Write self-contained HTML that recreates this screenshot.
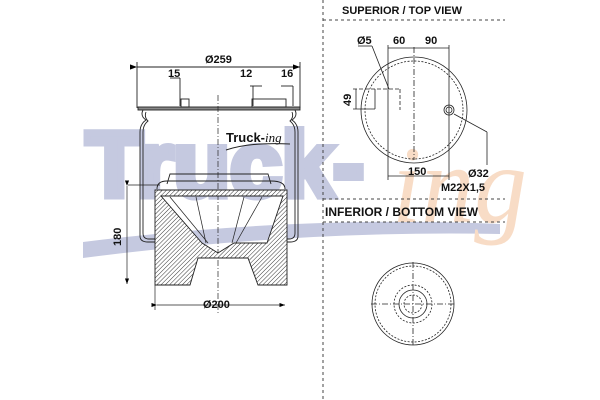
<!DOCTYPE html>
<html><head><meta charset="utf-8"><style>
html,body{margin:0;padding:0;background:#fff;}
svg{display:block;font-family:"Liberation Sans",sans-serif;}
</style></head><body>
<svg width="600" height="400" viewBox="0 0 600 400" xmlns="http://www.w3.org/2000/svg">
<defs>
<pattern id="h" width="3" height="3" patternUnits="userSpaceOnUse" patternTransform="rotate(45)">
<rect width="3" height="3" fill="#fff"/><line x1="0" y1="0" x2="0" y2="3" stroke="#333" stroke-width="1"/>
</pattern>
<marker id="a" markerWidth="8" markerHeight="6" refX="8" refY="3" orient="auto"><path d="M0,0 L8,3 L0,6z" fill="#000"/></marker>
</defs>
<!-- watermark -->
<g fill="#c5c9e0">
<text x="86" y="196" font-size="92" font-weight="bold" textLength="278" lengthAdjust="spacingAndGlyphs" stroke="#c5c9e0" stroke-width="7" stroke-linejoin="miter" style="font-family:'Liberation Sans',sans-serif">Truck-</text>
<path d="M83,242 Q300,215 500,224 L500,234 Q300,230 83,258 Z"/>
</g>
<text x="392" y="222" font-size="110" font-style="italic" fill="#f8dcc6" style="font-family:'Liberation Serif',serif" textLength="135" lengthAdjust="spacingAndGlyphs">ing</text>
<!-- separators -->
<g stroke="#444" stroke-width="1" stroke-dasharray="3,3" fill="none">
<line x1="323" y1="0" x2="323" y2="400"/>
<line x1="323" y1="20" x2="505" y2="20"/>
<line x1="323" y1="199" x2="505" y2="199"/>
<line x1="323" y1="222" x2="505" y2="222"/>
</g>
<g font-weight="bold" font-size="11" fill="#111">
<text x="342" y="14">SUPERIOR / TOP VIEW</text>
<text x="325" y="216" font-size="12">INFERIOR / BOTTOM VIEW</text>
</g>
<!-- top view -->
<g stroke="#222" fill="none" stroke-width="0.8">
<circle cx="414" cy="110" r="53"/>
<circle cx="414" cy="110" r="49" stroke-dasharray="2,1.5"/>
<line x1="414" y1="47" x2="414" y2="160" stroke-dasharray="6,2,1,2"/>
<line x1="388" y1="45" x2="388" y2="180"/>
<line x1="449" y1="45" x2="449" y2="180"/>
<line x1="388" y1="48" x2="449" y2="48"/>
<line x1="388" y1="176" x2="449" y2="176"/>
<line x1="358" y1="46" x2="372" y2="46"/><line x1="372" y1="46" x2="389" y2="89"/>
<line x1="353" y1="89" x2="400" y2="89" stroke-dasharray="4,2"/>
<line x1="353" y1="109" x2="375" y2="109"/>
<line x1="375" y1="89" x2="375" y2="109"/>
<line x1="356" y1="89" x2="356" y2="109"/>
<line x1="400" y1="89" x2="400" y2="110" stroke-dasharray="4,2"/>
<circle cx="449" cy="110" r="5"/><circle cx="449" cy="110" r="3"/>
<line x1="454" y1="114" x2="487" y2="132"/><line x1="487" y1="132" x2="487" y2="165"/>
</g>
<g font-weight="bold" font-size="11" fill="#111">
<text x="357" y="44">Ø5</text><text x="393" y="44">60</text><text x="425" y="44">90</text>
<text x="408" y="175">150</text>
<text x="468" y="177">Ø32</text><text x="441" y="191">M22X1,5</text>
<text x="0" y="0" transform="translate(351,106) rotate(-90)">49</text>
</g>
<!-- bottom view -->
<g stroke="#222" fill="none" stroke-width="0.8">
<circle cx="413" cy="304" r="41"/>
<circle cx="413" cy="304" r="38" stroke-dasharray="2,1.5"/>
<circle cx="413" cy="304" r="19" stroke-dasharray="2,1.5"/>
<circle cx="413" cy="304" r="14"/>
<circle cx="413" cy="304" r="9" stroke-dasharray="2,1.5"/>
<line x1="413" y1="262" x2="413" y2="347" stroke-dasharray="6,2,1,2"/>
<line x1="371" y1="304" x2="455" y2="304" stroke-dasharray="6,2,1,2"/>
</g>
<!-- side view -->
<g stroke="#222" fill="none" stroke-width="0.9">
<line x1="137" y1="67" x2="300" y2="67" marker-start="url(#a)" marker-end="url(#a)"/>
<line x1="137" y1="62" x2="137" y2="108"/><line x1="300" y1="62" x2="300" y2="108"/>
<rect x="138" y="107" width="162" height="3" fill="#888"/>
<rect x="181" y="99" width="8" height="8"/>
<rect x="252" y="99" width="34" height="8"/>
<line x1="180" y1="78" x2="180" y2="106"/><line x1="253" y1="86" x2="253" y2="106"/><line x1="293" y1="86" x2="293" y2="106"/>
<line x1="170" y1="78" x2="180" y2="78"/><line x1="250" y1="86" x2="262" y2="86"/><line x1="281" y1="86" x2="293" y2="86"/>
<path d="M143,110 q-3,6 3,10 q-6,4 -6,12 L140,236 q0,6 8,6 L157,242"/>
<path d="M146,112 q-2,5 2,9 q-5,4 -5,11 L143,233 q0,6 6,6 L157,239"/>
<path d="M295,110 q3,6 -3,10 q6,4 6,12 L298,236 q0,6 -8,6 L283,242"/>
<path d="M292,112 q2,5 -2,9 q5,4 5,11 L295,233 q0,6 -6,6 L283,239"/>
<path d="M167,184 L170,174 L268,174 L271,184"/>
<path d="M157,189 Q157,181 167,181 L271,181 Q285,181 285,189"/>
<line x1="218" y1="95" x2="218" y2="315" stroke-dasharray="6,2,1,2" stroke-width="0.7"/>
</g>
<path d="M155,190 L287,190 L287,285 L258,285 L248,258 L198,258 L190,285 L155,285 Z M161,196 L202,243 L218,253 L234,243 L267,243 L283,196 Z" fill="url(#h)" fill-rule="evenodd" stroke="#222" stroke-width="0.9"/>
<g stroke="#222" stroke-width="0.7">
<line x1="161" y1="196" x2="283" y2="196"/>
<line x1="170" y1="197" x2="208" y2="243"/><line x1="196" y1="197" x2="206" y2="243"/>
<line x1="262" y1="197" x2="236" y2="243"/><line x1="244" y1="197" x2="232" y2="243"/>
<line x1="128" y1="185" x2="160" y2="185"/>
<line x1="127" y1="186" x2="127" y2="284" marker-start="url(#a)" marker-end="url(#a)"/>
<line x1="155" y1="285" x2="155" y2="310"/>
<line x1="157" y1="305" x2="285" y2="305" marker-start="url(#a)" marker-end="url(#a)"/>
</g>
<g font-weight="bold" font-size="11" fill="#111">
<text x="205" y="63">Ø259</text>
<text x="168" y="77">15</text><text x="240" y="77">12</text><text x="281" y="77">16</text>
<text x="203" y="308">Ø200</text>
<text x="0" y="0" transform="translate(121,246) rotate(-90)">180</text>
<text x="226" y="142" font-size="13">Truck-<tspan font-style="italic" font-weight="normal" style="font-family:'Liberation Serif',serif">ing</tspan></text>
</g>
<path d="M226,150 Q250,142 290,144" stroke="#222" fill="none" stroke-width="1"/>
</svg>
</body></html>
